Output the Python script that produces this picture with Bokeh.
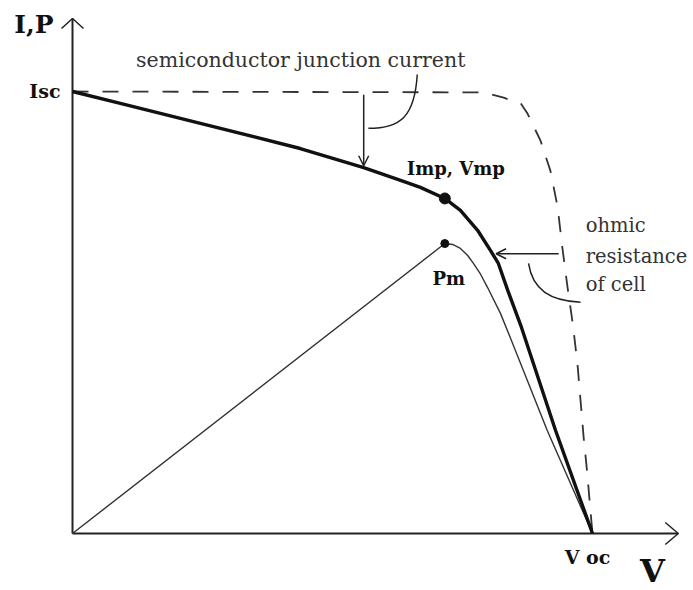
import numpy as np
from bokeh.plotting import figure
from bokeh.models import Arrow, OpenHead
from bokeh.core.properties import value
from bokeh.embed import file_html
from bokeh.resources import INLINE

# ---------------- data (arbitrary units: V 0..Voc=100, I/P 0..Isc=100) -------------
I_sc = 100.0
V_oc = 100.0
V_mp = 71.6
I_mp = 75.8
P_m = 65.6

# real cell I-V curve (thick)
iv_V = [0.0, 9.2, 24.6, 43.8, 56.0, 63.1, 66.9, 71.6, 74.6, 77.9, 80.4, 81.9, 83.7, 86.2, 92.9, 100.0]
iv_I = [100.0, 97.3, 92.8, 87.1, 82.8, 79.9, 78.3, 75.8, 73.1, 68.6, 64.0, 61.1, 55.0, 47.1, 23.3, 0.0]

# ideal junction curve (dashed)
ideal_V = [0.0, 79.0, 82.9, 86.2, 87.5, 90.0, 91.9, 93.3, 94.2, 95.2, 96.2, 97.1, 97.7, 98.3, 99.0, 99.6, 100.0]
ideal_I = [100.0, 99.8, 98.6, 97.3, 95.0, 88.9, 82.1, 73.8, 64.7, 55.7, 47.5, 38.5, 30.1, 21.7, 13.6, 5.2, 0.0]

# power curve (thin)
p_V = [0.0, 71.6, 73.1, 74.6, 76.0, 77.1, 78.5, 79.8, 82.3, 84.2, 91.3, 100.0]
p_P = [0.0, 65.6, 65.4, 64.5, 62.9, 61.1, 58.6, 55.7, 49.8, 44.3, 23.3, 0.0]

# annotation anchors
V_junction_arrow = 56.0      # where "semiconductor junction current" arrow points
I_ohmic_arrow = 63.3         # height of "ohmic resistance" arrow
axis_end = 116.5             # axes extent (both)

# ---------------- layout ------------------------------------------------------------
W, H = 693, 590
ORIGIN_PX = (72, 533)        # frame pixel position of (0,0)
SX, SY = 5.2, 4.42           # px per unit

x0 = -ORIGIN_PX[0] / SX
x1 = (W - ORIGIN_PX[0]) / SX
y0 = -(H - ORIGIN_PX[1]) / SY
y1 = ORIGIN_PX[1] / SY

p = figure(width=W, height=H, x_range=(x0, x1), y_range=(y0, y1),
           x_axis_type=None, y_axis_type=None, toolbar_location=None,
           output_backend="svg", min_border=0, outline_line_color=None,
           background_fill_color="white", border_fill_color="white")
p.xgrid.visible = False
p.ygrid.visible = False

AX = "#222222"
# axes
p.line([0, 0], [0, axis_end], line_color=AX, line_width=2)
p.line([0, axis_end], [0, 0], line_color=AX, line_width=2)
hw, L = 11 / SX, 10 / SY
p.line([-hw, 0, hw], [axis_end - L, axis_end, axis_end - L], line_color=AX, line_width=1.5)
L2, hh = 13 / SX, 11 / SY
p.line([axis_end - L2, axis_end, axis_end - L2], [hh, 0, -hh], line_color=AX, line_width=1.5)

# curves
p.line(ideal_V, ideal_I, line_color="#333333", line_width=1.8, line_dash="16 14")
p.line(p_V, p_P, line_color="#333333", line_width=1.4, line_join="round")
p.line(iv_V, iv_I, line_color="#111111", line_width=3.4, line_join="round")

# points
p.scatter([V_mp], [I_mp], size=11, color="#111111")
p.scatter([V_mp], [P_m], size=8, color="#111111")

# junction current arrow
ja_top = float(np.interp(V_junction_arrow, ideal_V, ideal_I)) - 0.6
ja_bot = float(np.interp(V_junction_arrow, iv_V, iv_I)) + 0.4
p.add_layout(Arrow(end=OpenHead(size=10, line_width=1.5, line_color=AX),
                   x_start=V_junction_arrow, y_start=ja_top,
                   x_end=V_junction_arrow, y_end=ja_bot,
                   line_width=1.5, line_color=AX))
# curl from label to arrow
p.bezier(x0=[V_junction_arrow + 10.3], y0=[ja_top + 4.6],
         x1=[V_junction_arrow + 0.9], y1=[ja_top - 7.6],
         cx0=[V_junction_arrow + 9.8], cy0=[ja_top - 4.9],
         cx1=[V_junction_arrow + 7.1], cy1=[ja_top - 7.6],
         line_color=AX, line_width=1.5)

# ohmic resistance arrow
iv_I_rev = iv_I[::-1]
iv_V_rev = iv_V[::-1]
oa_tip = float(np.interp(I_ohmic_arrow, iv_I_rev, iv_V_rev)) + 0.7
oa_tail = 93.5
p.add_layout(Arrow(end=OpenHead(size=10, line_width=1.5, line_color=AX),
                   x_start=oa_tail, y_start=I_ohmic_arrow,
                   x_end=oa_tip, y_end=I_ohmic_arrow,
                   line_width=1.5, line_color=AX))
p.bezier(x0=[87.7], y0=[I_ohmic_arrow - 2.2], x1=[97.7], y1=[I_ohmic_arrow - 11.0],
         cx0=[88.5], cy0=[I_ohmic_arrow - 8.3], cx1=[91.9], cy1=[I_ohmic_arrow - 10.6],
         line_color=AX, line_width=1.5)

SERIF = value("DejaVu Serif")

def label(x, y, txt, size, bold=False, dx=0, dy=0, align="center", color="#111111"):
    p.text(x=[x], y=[y], text=[txt], x_offset=dx, y_offset=dy,
           text_font=SERIF, text_font_size=f"{size}px",
           text_font_style="bold" if bold else "normal",
           text_align=align, text_baseline="middle", text_color=color)

label(0, axis_end, "I,P", 25, bold=True, dx=-19, dy=6, align="right")
label(0, I_sc, "Isc", 19, bold=True, dx=-12, dy=-1, align="right")
label(V_mp, I_mp, "Imp, Vmp", 18, bold=True, dx=11, dy=-30)
label(V_mp, P_m, "Pm", 18, bold=True, dx=4, dy=35)
label(V_oc, 0, "V oc", 19, bold=True, dx=-5, dy=23)
label(axis_end, 0, "V", 32, bold=True, dx=-26, dy=37)
label(V_junction_arrow, ja_top, "semiconductor junction current", 20.5,
      dx=-63, dy=-35, color="#333333")
label(oa_tail, I_ohmic_arrow, "ohmic", 19.5, dx=27, dy=-28, align="left", color="#333333")
label(oa_tail, I_ohmic_arrow, "resistance", 19.5, dx=27, dy=3, align="left", color="#333333")
label(oa_tail, I_ohmic_arrow, "of cell", 19.5, dx=27, dy=31, align="left", color="#333333")

open("out.html", "w").write(file_html(p, INLINE))
